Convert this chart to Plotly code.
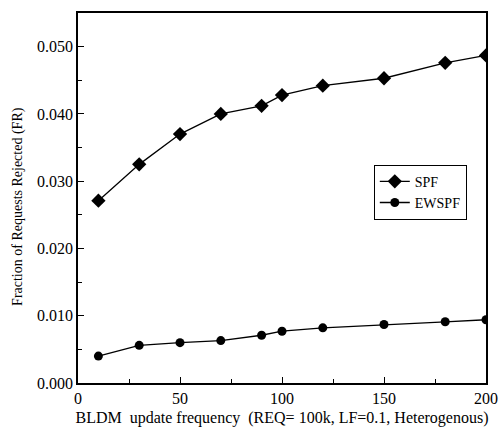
import plotly.graph_objects as go

x_vals = [10, 30, 50, 70, 90, 100, 120, 150, 180, 200]
spf = [0.0271, 0.0325, 0.0370, 0.0400, 0.0412, 0.0428, 0.0442, 0.0453, 0.0476, 0.0487]
ewspf = [0.0040, 0.0056, 0.0060, 0.0063, 0.0071, 0.0077, 0.0082, 0.0087, 0.0091, 0.0094]
x_ticks = [0, 50, 100, 150, 200]
y_ticks = [0.0, 0.01, 0.02, 0.03, 0.04, 0.05]
y_tick_text = ["0.000", "0.010", "0.020", "0.030", "0.040", "0.050"]

font_family = "Liberation Serif"

fig = go.Figure()
fig.add_trace(go.Scatter(x=x_vals, y=spf, name="SPF", mode="lines+markers",
                         line=dict(color="black", width=1.3),
                         marker=dict(symbol="diamond", size=11, color="black")))
fig.add_trace(go.Scatter(x=x_vals, y=ewspf, name="EWSPF", mode="lines+markers",
                         line=dict(color="black", width=1.3),
                         marker=dict(symbol="circle", size=9, color="black")))

axis_common = dict(showline=True, linecolor="black", linewidth=1.5, mirror=True,
                   ticks="inside", ticklen=6, tickwidth=1, tickcolor="black",
                   showgrid=False, zeroline=False, automargin=False,
                   tickfont=dict(family=font_family, size=16, color="black"))

fig.update_xaxes(range=[0, 200], tickvals=x_ticks,
                 minor=dict(dtick=25, ticks="inside", ticklen=4, tickcolor="black", showgrid=False),
                 title=dict(text="BLDM\u00a0\u00a0update frequency\u00a0\u00a0(REQ= 100k, LF=0.1, Heterogenous)",
                            font=dict(family=font_family, size=16, color="black"), standoff=6),
                 **axis_common)
fig.update_yaxes(range=[0, 0.055], tickvals=y_ticks, ticktext=y_tick_text,
                 minor=dict(dtick=0.005, ticks="inside", ticklen=4, tickcolor="black", showgrid=False),
                 **axis_common)

fig.add_annotation(text="Fraction of Requests Rejected (FR)", textangle=-90,
                   xref="paper", yref="paper", x=-0.147, y=0.476,
                   xanchor="center", yanchor="middle", showarrow=False,
                   font=dict(family=font_family, size=14, color="black"))

fig.update_layout(
    width=499, height=433, autosize=False,
    margin=dict(l=78, r=13, t=13, b=50),
    paper_bgcolor="white", plot_bgcolor="white",
    showlegend=True,
    legend=dict(x=0.725, y=0.59, xanchor="left", yanchor="top",
                bordercolor="black", borderwidth=1, bgcolor="white",
                font=dict(family=font_family, size=14, color="black"),
                itemwidth=30, tracegroupgap=0),
)

fig.write_html("out.html")
